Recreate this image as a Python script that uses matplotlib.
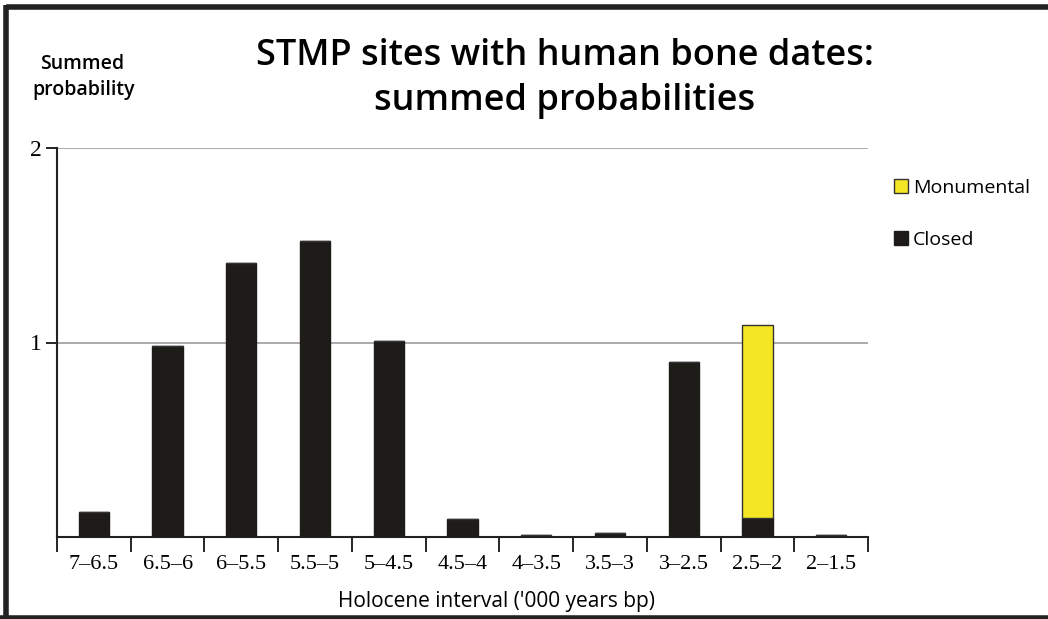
import numpy as np
import matplotlib.pyplot as plt
from matplotlib.lines import Line2D

intervals = ['7\u20136.5', '6.5\u20136', '6\u20135.5', '5.5\u20135', '5\u20134.5', '4.5\u20134',
             '4\u20133.5', '3.5\u20133', '3\u20132.5', '2.5\u20132', '2\u20131.5']
closed = [0.13, 0.98, 1.41, 1.52, 1.01, 0.09, 0.01, 0.02, 0.90, 0.10, 0.01]
monumental = [0, 0, 0, 0, 0, 0, 0, 0, 0, 0.99, 0]

plt.rcParams['font.family'] = ['Open Sans', 'DejaVu Sans']
serif = ['Liberation Serif', 'DejaVu Serif']

fig = plt.figure(figsize=(10.48, 6.19), dpi=100)
ax = fig.add_axes([57/1048, 82/619, (868-57)/1048, 389/619])

x = np.arange(len(intervals))
w = 0.41
ax.bar(x, closed, width=w, color='#1e1c19', edgecolor='#1e1c19', linewidth=1, zorder=3, label='Closed')
ax.bar(x, monumental, width=w, bottom=closed, color='#f5e625', edgecolor='#333333',
       linewidth=1, zorder=3, label='Monumental')

ax.set_xlim(-0.5, len(intervals) - 0.5)
ax.set_ylim(0, 2)
ax.set_yticks([1, 2])
ax.set_yticklabels(['1', '2'], fontsize=17, family=serif)
ax.yaxis.grid(True, color='#a09a9e', linewidth=1.2, zorder=0)
ax.tick_params(axis='y', length=8, width=1.2, direction='out', pad=3)

ax.set_xticks(x)
ax.set_xticklabels(intervals, fontsize=16, family=serif)
ax.set_xticks(np.arange(-0.5, len(intervals)), minor=True)
ax.tick_params(axis='x', which='major', length=0, pad=13)
ax.tick_params(axis='x', which='minor', length=11, width=1.2, direction='out')

for s in ['top', 'right']:
    ax.spines[s].set_visible(False)
for s in ['left', 'bottom']:
    ax.spines[s].set_linewidth(1.5)
    ax.spines[s].set_color('#222222')

fig.text(496/1048, 1 - 601/619, "Holocene interval ('000 years bp)", ha='center', va='center',
         fontsize=15)

fig.text(565/1048, 1 - 56/619, 'STMP sites with human bone dates:', ha='center', va='center',
         fontsize=26, fontweight='semibold')
fig.text(565/1048, 1 - 101/619, 'summed probabilities', ha='center', va='center',
         fontsize=26, fontweight='semibold')
fig.text(82/1048, 1 - 64/619, 'Summed', ha='center', va='center', fontsize=14, fontweight='semibold')
fig.text(84/1048, 1 - 90/619, 'probability', ha='center', va='center', fontsize=14, fontweight='semibold')

h, l = ax.get_legend_handles_labels()
fig.legend(h[::-1], l[::-1], loc='upper left', bbox_to_anchor=(886/1048, 1 - 171/619),
           frameon=False, fontsize=14, handlelength=0.75, handleheight=0.75,
           handletextpad=0.25, labelspacing=1.75, borderaxespad=0.0)

# page frame: top, left and bottom edges only
frame = dict(color='#222222', linewidth=4, transform=fig.transFigure, solid_capstyle='butt')
fig.add_artist(Line2D([6/1048, 1], [1 - 7/619, 1 - 7/619], **frame))
fig.add_artist(Line2D([6/1048, 6/1048], [1 - 5/619, 0], **frame))
fig.add_artist(Line2D([0, 1], [1/619, 1/619], **frame))

fig.savefig('out.png', dpi=100)
